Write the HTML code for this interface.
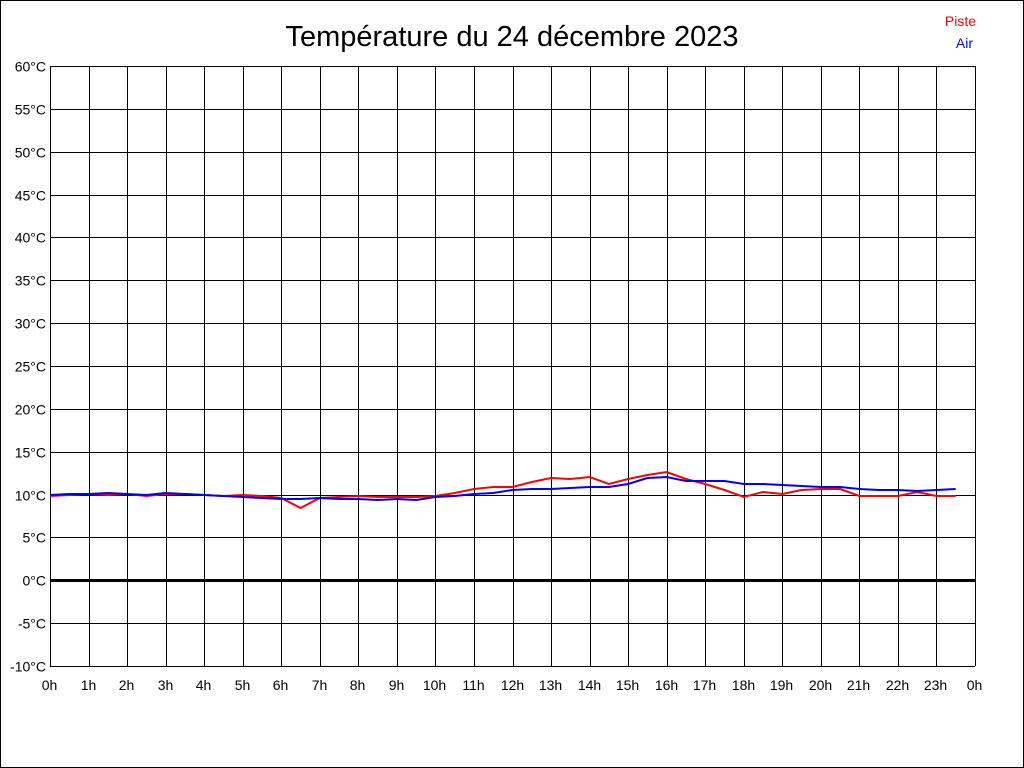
<!DOCTYPE html>
<html><head><meta charset="utf-8"><style>
body{margin:0;background:#fff}
svg{display:block;font-family:"Liberation Sans",sans-serif}
</style></head><body>
<svg width="1024" height="768" xmlns="http://www.w3.org/2000/svg">
<rect x="0.5" y="0.5" width="1023" height="767" fill="#fff" stroke="#000"/>
<text x="512" y="46" font-size="29" text-anchor="middle">Température du 24 décembre 2023</text>
<text x="976" y="26" font-size="14" text-anchor="end" fill="#f00">Piste</text>
<text x="973" y="48" font-size="14" text-anchor="end" fill="#00f">Air</text>
<g id="grid" stroke="#000" stroke-width="1"></g>
<g id="lab" font-size="14"></g>
<polyline id="red" fill="none" stroke="#f00" stroke-width="2"/>
<polyline id="blue" fill="none" stroke="#00f" stroke-width="2"/>
</svg>
<script>
var g=document.getElementById('grid'),l=document.getElementById('lab'),s='',t='';
for(var i=0;i<=24;i++){var x=50+i*925/24;x=Math.round(x)+0.5;s+='<line x1="'+x+'" y1="66" x2="'+x+'" y2="666"/>';t+='<text x="'+(x-1)+'" y="690" text-anchor="middle">'+(i%24)+'h</text>';}
for(var k=0;k<=14;k++){var v=60-k*5,y=Math.round(66+k*600/14)+0.5;s+='<line x1="50" y1="'+y+'" x2="975" y2="'+y+'"'+(v==0?' stroke-width="3"':'')+'/>';t+='<text x="46" y="'+(y+5)+'" text-anchor="end">'+v+'°C</text>';}
g.innerHTML=s;l.innerHTML=t;
var R=[496,495,494,495,494,496,494,494,495,496,495,496,498,508,498,497,496,497,497,497,496,493,489,487,487,482,478,479,477,484,479,475,472,479,484,490,497,492,494,490,489,489,496,496,496,492,496,496];
var B=[495,494,494,493,494,495,493,494,495,496,497,498,499,499,498,499,499,500,499,500,497,496,494,493,490,489,489,488,487,487,484,478,477,481,481,481,484,484,485,486,487,487,489,490,490,491,490,489];
function p(a){return a.map(function(y,i){return (50+i*925/48).toFixed(1)+','+y}).join(' ')}
document.getElementById('red').setAttribute('points',p(R));
document.getElementById('blue').setAttribute('points',p(B));
</script>
</body></html>
